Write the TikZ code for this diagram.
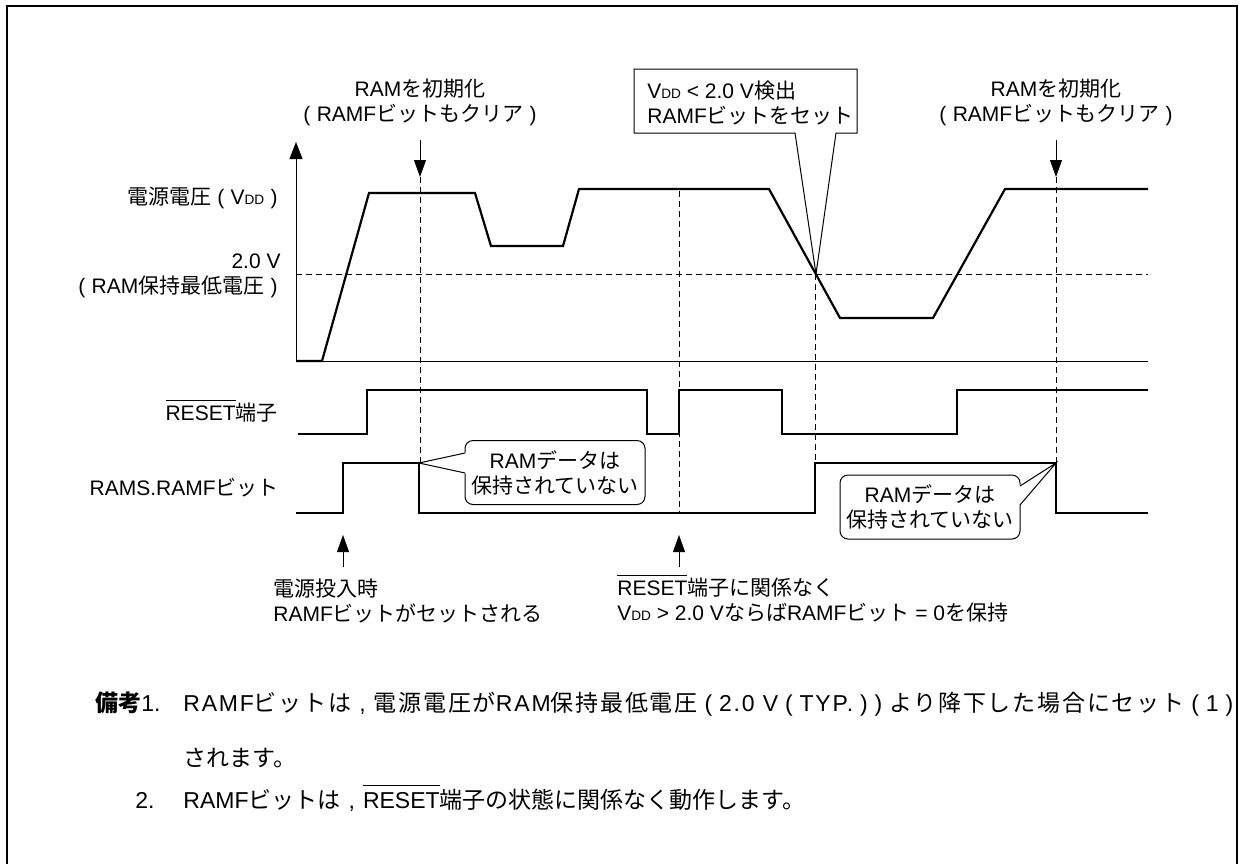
\documentclass[tikz,border=0pt]{standalone}
\usepackage{fontspec}
\setmainfont{Liberation Sans}
\newfontfamily\jp{Noto Sans CJK JP}
\newfontfamily\jpls[LetterSpace=7.8]{Noto Sans CJK JP}
\usetikzlibrary{arrows.meta}
\newcommand{\lp}{(\hspace{0.3em}}
\newcommand{\rp}{\hspace{0.3em})}
\newcommand{\dd}{{\fontsize{6.8}{7}\selectfont DD}}
\newcommand{\ovl}[1]{\smash{\vbox{\hrule height 0.5pt\kern 2.8pt\hbox{#1}}}}
\begin{document}
\begin{tikzpicture}[x=0.5pt,y=-0.5pt,
  font=\fontsize{10.5}{12.5}\selectfont,
  wave/.style={line width=1.1pt,line join=miter},
  thinline/.style={line width=0.5pt},
  dashline/.style={line width=0.5pt,dash pattern=on 2.8pt off 2.2pt},
  arr/.style={line width=0.5pt,-{Triangle[length=8.5pt,width=6pt]}},
  lbl/.style={inner sep=0pt},
  bubble/.style={draw,line width=0.5pt,rounded corners=4pt,fill=white,inner sep=0pt,align=center,minimum width=90pt,minimum height=32pt},
  note/.style={inner sep=0pt,font=\fontsize{11.5}{13}\selectfont}]
\useasboundingbox (0,0) rectangle (1239,864);
% frame
\draw[line width=1pt] (7,864) -- (7,6) -- (1237,6) -- (1237,864);

% dashed guides
\draw[dashline] (296,274) -- (1148,274);
\draw[dashline] (420,177) -- (420,463);
\draw[dashline] (679,191) -- (679,513);
\draw[dashline] (815,274) -- (815,463);
\draw[dashline] (1056,177) -- (1056,463);

% axes
\coordinate (origin) at (296,361);
\coordinate (ytop) at (296,142);
\coordinate (xend) at (1148,361);
\draw[thinline] (origin) -- (xend);
\draw[line width=0.5pt,-{Triangle[length=8.5pt,width=6.5pt]}] (origin) -- (ytop);

% VDD callout
\coordinate (cross) at (816,274);
\draw[thinline] (795,133) -- (634,133) -- (634,69) -- (857,69) -- (857,133) -- (836,133) -- (cross) -- cycle;
\node[lbl,anchor=west,align=left] (vddnote) at (647,103) {V\dd{} < 2.0 V{\jp 検出}\\RAMF{\jp ビットをセット}};

% bubbles
\node[bubble] (c1) at (555,472.5) {RAM{\jp データは}\\{\jp 保持されていない}};
\fill[white] (419,463) -- (466,452.5) -- (466,473.5) -- cycle;
\draw[thinline] (465,453) -- (419,463) -- (465,473);
\node[bubble] (c2) at (930,507) {RAM{\jp データは}\\{\jp 保持されていない}};
\fill[white] (1056,463) -- (1019,485.5) -- (1019,505.5) -- cycle;
\draw[thinline] (1020,486) -- (1056,463) -- (1020,505);

% waveforms
\draw[wave] (296,361) -- (322,361) -- (369,193) -- (475,193) -- (491,246) -- (563,246) -- (579,189) -- (769,189) -- (840,318) -- (933,318) -- (1005,189) -- (1148,189);
\draw[wave] (298,434) -- (367,434) -- (367,390) -- (647,390) -- (647,434) -- (679,434) -- (679,390) -- (782,390) -- (782,434) -- (957,434) -- (957,390) -- (1148,390);
\draw[wave] (296,513) -- (343,513) -- (343,463) -- (419,463) -- (419,513) -- (815,513) -- (815,463) -- (1056,463) -- (1056,513) -- (1148,513);

% arrows
\coordinate (a1s) at (420,140); \coordinate (a1e) at (420,177);
\coordinate (a2s) at (1056,140); \coordinate (a2e) at (1056,177);
\coordinate (a3s) at (343,567); \coordinate (a3e) at (343,535);
\coordinate (a4s) at (679,567); \coordinate (a4e) at (679,535);
\draw[arr] (a1s) -- (a1e);
\draw[arr] (a2s) -- (a2e);
\draw[arr] (a3s) -- (a3e);
\draw[arr] (a4s) -- (a4e);

% top labels
\node[lbl,align=center] (top1) at (420,102) {RAM{\jp を初期化}\\\lp RAMF{\jp ビットもクリア}\rp};
\node[lbl,align=center] (top2) at (1056,102) {RAM{\jp を初期化}\\\lp RAMF{\jp ビットもクリア}\rp};

% left labels
\node[lbl,anchor=east] (lvdd) at (278,198) {{\jp 電源電圧}\hspace{0.3em}\lp V\dd\rp};
\node[lbl,anchor=east] (l20) at (281,261) {2.0 V};
\node[lbl,anchor=east] (lram) at (278,287) {\lp RAM{\jp 保持最低電圧}\rp};
\node[lbl,anchor=east] (lrst) at (278,413) {\ovl{RESET}{\jp 端子}};
\node[lbl,anchor=east] (lramf) at (279,488) {RAMS.RAMF{\jp ビット}};

% bottom labels
\node[lbl,anchor=west,align=left] (b1) at (273,600.5) {{\jp 電源投入時}\\RAMF{\jp ビットがセットされる}};
\node[lbl,anchor=west,align=left] (b2) at (617,600.5) {\ovl{RESET}{\jp 端子に関係なく}\\V\dd{} > 2.0 V{\jp ならば}RAMF{\jp ビット} = 0{\jp を保持}};

% notes
\node[note,anchor=base west] (nb) at (95,711) {{\jp\bfseries 備考}1.};
\node[note,anchor=base west] (n1) at (183,711) {\addfontfeature{LetterSpace=7.8}RAMF{\jpls ビットは}\hspace{0.35em},\hspace{0.35em}{\jpls 電源電圧が}RAM{\jpls 保持最低電圧}\hspace{0.3em}\lp 2.0 V\hspace{0.3em}\lp TYP.\rp\rp\hspace{0.3em}{\jpls より降下した場合にセット}\hspace{0.3em}\lp 1\rp};
\node[note,anchor=base west] (n1b) at (183,766) {{\jp されます。}};
\node[note,anchor=base west] (n2n) at (135,808) {2.};
\node[note,anchor=base west] (n2) at (183,808) {RAMF{\jp ビットは}\hspace{0.35em},\hspace{0.35em}\ovl{RESET}{\jp 端子の状態に関係なく動作します。}};
\end{tikzpicture}
\end{document}
